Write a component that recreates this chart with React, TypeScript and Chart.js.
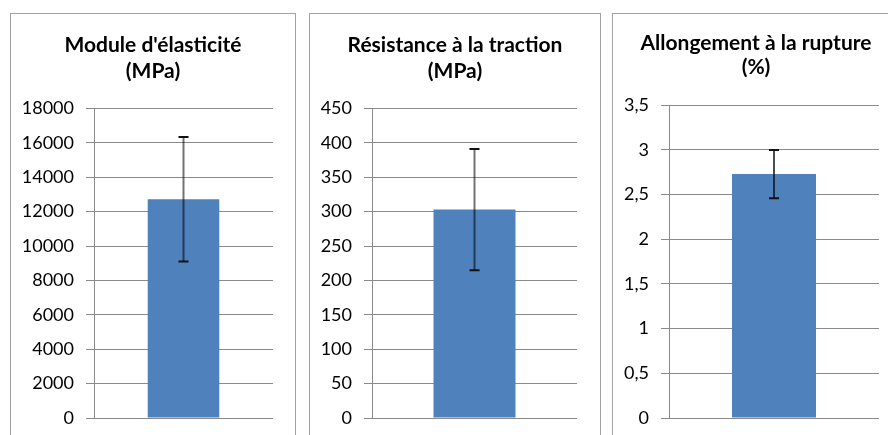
import React, { useEffect, useRef } from 'react';
import { Chart, registerables } from 'chart.js';

Chart.register(...registerables);

// ---- Data ----
const categories = [''];

const modulusTitle = ["Module d'élasticité", '(MPa)'];
const modulusValues = [12720];
const modulusErrors = [3620];
const modulusTicks = [0, 2000, 4000, 6000, 8000, 10000, 12000, 14000, 16000, 18000];

const tensileTitle = ['Résistance à la traction', '(MPa)'];
const tensileValues = [303];
const tensileErrors = [88];
const tensileTicks = [0, 50, 100, 150, 200, 250, 300, 350, 400, 450];

const elongationTitle = ['Allongement à la rupture', '(%)'];
const elongationValues = [2.73];
const elongationErrors = [0.27];
const elongationTicks = [0, 0.5, 1, 1.5, 2, 2.5, 3, 3.5];

// ---- Error bar plugin ----
const errorBarPlugin = {
  id: 'errorBars',
  afterDatasetsDraw(chart: any, _args: any, opts: any) {
    const { ctx } = chart;
    const y = chart.scales.y;
    const errs: number[] = opts.errors || [];
    chart.data.datasets.forEach((ds: any, di: number) => {
      const meta = chart.getDatasetMeta(di);
      meta.data.forEach((el: any, i: number) => {
        const v = ds.data[i] as number;
        const e = errs[i];
        if (e == null) return;
        const top = y.getPixelForValue(v + e);
        const bot = y.getPixelForValue(v - e);
        const x = el.x;
        ctx.save();
        ctx.strokeStyle = opts.color;
        ctx.lineWidth = opts.lineWidth;
        ctx.beginPath();
        ctx.moveTo(x, top);
        ctx.lineTo(x, bot);
        ctx.stroke();
        ctx.lineWidth = opts.capWidth;
        ctx.strokeStyle = opts.capColor;
        ctx.beginPath();
        ctx.moveTo(x - opts.capHalf, top);
        ctx.lineTo(x + opts.capHalf, top);
        ctx.moveTo(x - opts.capHalf, bot);
        ctx.lineTo(x + opts.capHalf, bot);
        ctx.stroke();
        ctx.restore();
      });
    });
  },
};

const GRID = '#8a8a8a';

type PanelProps = {
  title: string[];
  values: number[];
  errors: number[];
  ticks: number[];
  left: number;
  innerWidth: number;
  yWidth: number;
  padRight: number;
  titleLineHeight: number;
  titlePadTop: number;
  titlePadBottom: number;
  errColor: string;
  errWidth: number;
};

const CANVAS_H = 430;

function Panel(p: PanelProps) {
  const ref = useRef<HTMLCanvasElement | null>(null);
  useEffect(() => {
    if (!ref.current) return;
    const chart = new Chart(ref.current, {
      type: 'bar',
      data: {
        labels: categories,
        datasets: [
          {
            data: p.values,
            backgroundColor: '#4F81BD',
            borderWidth: 0,
            barPercentage: 0.4,
            categoryPercentage: 1,
            yAxisID: 'y',
          },
        ],
      },
      options: {
        responsive: false,
        animation: false,
        devicePixelRatio: 1,
        layout: { padding: { left: 0, right: 0, top: 0, bottom: 26 } },
        plugins: {
          legend: { display: false },
          tooltip: { enabled: false },
          title: {
            display: true,
            text: p.title,
            color: '#000',
            font: { family: 'Lato', size: 21, weight: 'bold', lineHeight: p.titleLineHeight },
            padding: { top: p.titlePadTop, bottom: p.titlePadBottom },
          },
          errorBars: {
            errors: p.errors,
            color: p.errColor,
            lineWidth: p.errWidth,
            capColor: '#111',
            capWidth: 2,
            capHalf: 5,
          },
        } as any,
        scales: {
          x: { display: false },
          y: {
            position: 'left',
            min: p.ticks[0],
            max: p.ticks[p.ticks.length - 1],
            afterBuildTicks: (scale: any) => {
              scale.ticks = p.ticks.map((value) => ({ value }));
            },
            afterFit: (scale: any) => {
              scale.width = p.yWidth;
            },
            border: { display: true, color: GRID, width: 1 },
            grid: { color: GRID, lineWidth: 1, drawTicks: true, tickLength: 8, tickColor: GRID },
            ticks: {
              padding: 12,
              color: '#000',
              font: { family: 'Lato', size: 18 },
              callback: (v: any) => String(v).replace('.', ','),
            },
          },
          spacer: {
            type: 'linear',
            position: 'right',
            display: true,
            grid: { display: false, drawTicks: false },
            border: { display: false },
            ticks: { display: false },
            afterFit: (scale: any) => {
              scale.width = p.padRight;
            },
          },
        },
      },
      plugins: [errorBarPlugin],
    });
    return () => chart.destroy();
  }, []);
  return (
    <div
      style={{
        position: 'absolute',
        left: p.left,
        top: 13,
        width: p.innerWidth,
        height: CANVAS_H,
        border: '1px solid #a3a3a3',
        background: '#fff',
      }}
    >
      <canvas
        ref={ref}
        width={p.innerWidth}
        height={CANVAS_H}
        style={{ display: 'block', width: p.innerWidth, height: CANVAS_H }}
      />
    </div>
  );
}

export default function App() {
  return (
    <div
      style={{
        position: 'fixed',
        left: 0,
        top: 0,
        width: 888,
        height: 435,
        overflow: 'hidden',
        background: '#fff',
      }}
    >
      <Panel
        title={modulusTitle}
        values={modulusValues}
        errors={modulusErrors}
        ticks={modulusTicks}
        left={10}
        innerWidth={284}
        yWidth={83}
        padRight={22}
        titleLineHeight={1.25}
        titlePadTop={18}
        titlePadBottom={24}
        errColor="rgba(0,0,0,0.55)"
        errWidth={2}
      />
      <Panel
        title={tensileTitle}
        values={tensileValues}
        errors={tensileErrors}
        ticks={tensileTicks}
        left={309}
        innerWidth={290}
        yWidth={62}
        padRight={23}
        titleLineHeight={1.25}
        titlePadTop={18}
        titlePadBottom={24}
        errColor="rgba(0,0,0,0.55)"
        errWidth={2}
      />
      <Panel
        title={elongationTitle}
        values={elongationValues}
        errors={elongationErrors}
        ticks={elongationTicks}
        left={612}
        innerWidth={286}
        yWidth={56}
        padRight={20}
        titleLineHeight={1.15}
        titlePadTop={17}
        titlePadBottom={26}
        errColor="#111"
        errWidth={1.5}
      />
    </div>
  );
}
